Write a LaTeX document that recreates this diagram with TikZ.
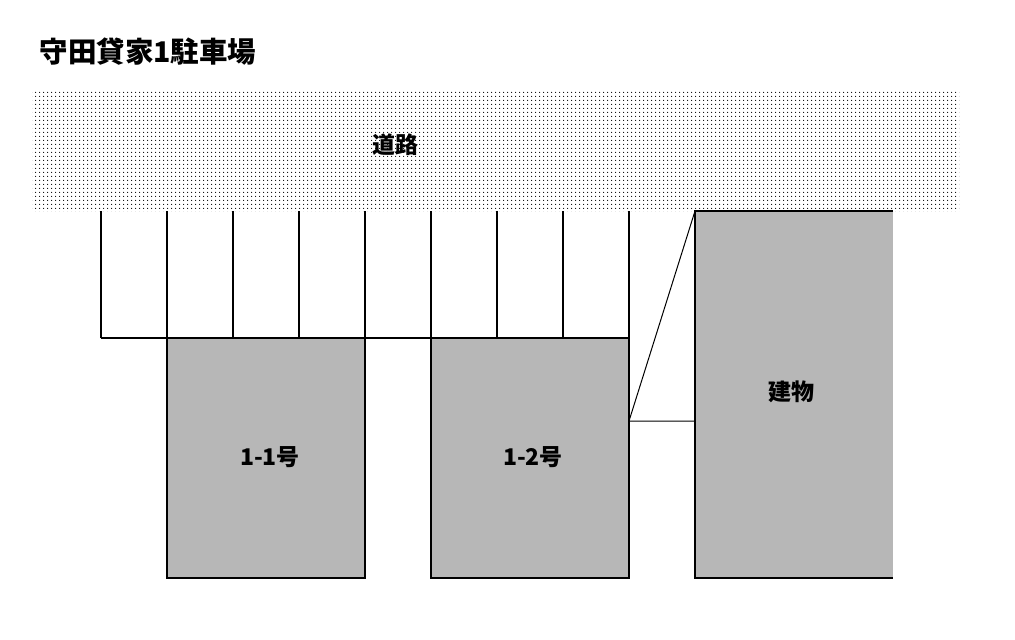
\documentclass[tikz,border=0pt]{standalone}
\usepackage{fontspec}
\setmainfont{Noto Sans CJK JP}
\usetikzlibrary{patterns.meta}
\definecolor{lotgray}{RGB}{183,183,183}
\tikzset{
	stallline/.style={line width=2pt},
	boxline/.style={line width=1.3pt},
	labeltext/.style={inner sep=0, font=\bfseries\fontsize{23}{23}\selectfont},
}

\begin{document}
\begin{tikzpicture}[x=1pt,y=-1pt]
\useasboundingbox (0,0) rectangle (1015,640);
\pgfmathsetmacro{\stallW}{66}
\pgfmathsetmacro{\stallTop}{211}
\pgfmathsetmacro{\stallBot}{338}

% Draw title
\node[inner sep=0, font=\bfseries\fontsize{28.5}{28.5}\selectfont] (title) at (148,52) {守田貸家1駐車場};

% Draw road
\fill[pattern={Dots[distance=4pt,radius=0.7pt]}] (32,89) rectangle (959,\stallTop);
\node[labeltext] (road) at (395,145) {道路};

% Draw houses
\filldraw[fill=lotgray, boxline] (167,\stallBot) rectangle (365,578);
\filldraw[fill=lotgray, boxline] (431,\stallBot) rectangle (629,578);
\node[labeltext] (houseA) at (270,457) {1-1号};
\node[labeltext] (houseB) at (533,457) {1-2号};

% Draw stalls
\foreach \i in {0,...,8}
	\draw[stallline] ({101+\stallW*\i},\stallTop) -- ({101+\stallW*\i},\stallBot);
\draw[stallline] (101,\stallBot) -- (629,\stallBot);

% Draw building
\fill[lotgray] (695,\stallTop) rectangle (893,578);
\draw[boxline] (893,\stallTop) -- (695,\stallTop) -- (695,578) -- (893,578);
\node[labeltext] (building) at (791,392) {建物};

% Draw lines
\coordinate (cornerTop) at (695,\stallTop);
\coordinate (cornerBend) at (629,421);
\coordinate (cornerSide) at (695,421);
\draw[line width=1pt] (cornerTop) -- (cornerBend) -- (cornerSide);
\end{tikzpicture}
\end{document}
